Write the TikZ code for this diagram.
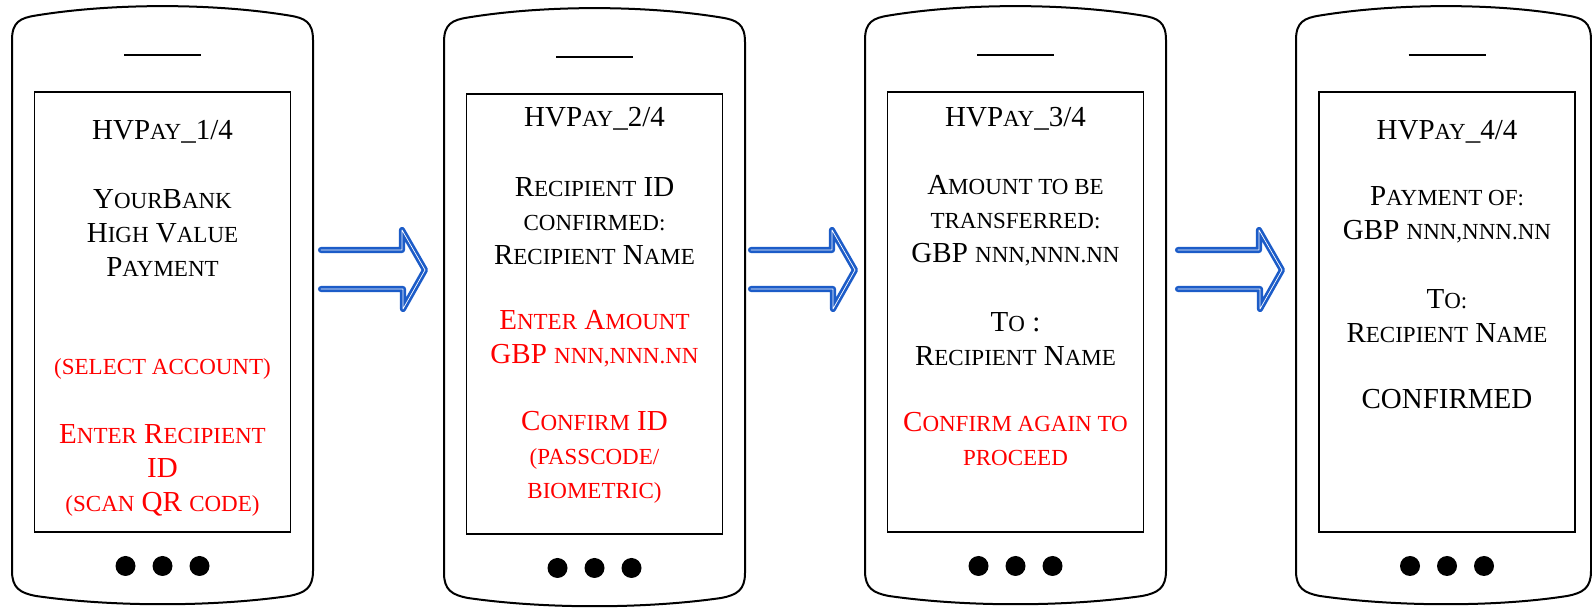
\documentclass[tikz,border=0pt]{standalone}
\usepackage{fontspec}
\setmainfont{Liberation Serif}
\usepackage{tikz}
\usetikzlibrary{positioning}
\definecolor{arrowblue}{RGB}{28, 92, 200}
\definecolor{alertred}{RGB}{255, 0, 0}
\newcommand{\smc}[1]{{\fontsize{11.5pt}{17pt}\selectfont\uppercase{#1}}}
\tikzstyle{body} = [draw=black, line width=1pt]
\tikzstyle{screen} = [rectangle, draw=black, line width=0.75pt, minimum width=128pt, minimum height=220pt, inner sep=0pt]
\tikzstyle{button} = [circle, fill=black, minimum size=10pt, inner sep=0pt]
\tikzstyle{textonly} = [draw=none, fill=none, align=center, text=black, font=\fontsize{14.5pt}{17pt}\selectfont, inner sep=0pt]
\tikzstyle{redtext} = [textonly, text=alertred]
\tikzstyle{flow} = [draw=arrowblue, line width=1.35pt, double=white, double distance=0.35pt, line cap=round, line join=round]

\begin{document}
\begin{tikzpicture}[x=0.5pt, y=-0.5pt]
\useasboundingbox (0,0) rectangle (1592,608);

% phones =============================
\foreach \n/\L/\R/\C/\dy in {1/12/313/162.5/0, 2/444/745/594.5/2, 3/865/1166/1015.5/0, 4/1296/1591/1447/0}{
  \draw[body] (\L,571+\dy) -- (\L,40+\dy)
    .. controls (\L,22+\dy) and (\L+8,18+\dy) .. (\L+24,15.5+\dy)
    .. controls (\C-50,3+\dy) and (\C+50,3+\dy) .. (\R-24,15.5+\dy)
    .. controls (\R-8,18+\dy) and (\R,22+\dy) .. (\R,40+\dy)
    -- (\R,571+\dy)
    .. controls (\R,588+\dy) and (\R-8,593+\dy) .. (\R-24,596+\dy)
    .. controls (\C+50,607+\dy) and (\C-50,607+\dy) .. (\L+24,596+\dy)
    .. controls (\L+8,593+\dy) and (\L,588+\dy) .. cycle;
  \draw[body] (\C-38.5,55+\dy) -- (\C+38.5,55+\dy);
  \node[screen] (s\n) at (\C,312+\dy) {};
  \node[button] (b\n a) at (\C-37,566+\dy) {};
  \node[button] (b\n b) at (\C,566+\dy) {};
  \node[button] (b\n c) at (\C+37,566+\dy) {};
}

% arrows
\foreach \n/\x in {1/321, 2/751, 3/1178}{
  \coordinate (a\n) at (\x+104,270);
  \draw[flow] (\x,250) -- (\x+81,250) -- (\x+81,230) -- (a\n) -- (\x+82,309) -- (\x+82,289) -- (\x,289);
}

% screen 1
\node[textonly] (t1) at (162.5,132) {HVP\smc{ay}\_1/4};
\node[textonly] (m1) at (162.5,233.5) {Y\smc{our}B\smc{ank}\\H\smc{igh} V\smc{alue}\\P\smc{ayment}};
\node[redtext] (r1) at (162.5,368.5) {\smc{(select account)}};
\node[redtext] (q1) at (162.5,470) {E\smc{nter} R\smc{ecipient}\\ID\\\smc{(scan} QR \smc{code)}};

% screen 2
\node[textonly] (t2) at (594.5,119) {HVP\smc{ay}\_2/4};
\node[textonly] (m2) at (594.5,221) {R\smc{ecipient} ID\\\smc{confirmed:}\\R\smc{ecipient} N\smc{ame}};
\node[redtext] (r2) at (594.5,338.5) {E\smc{nter} A\smc{mount}\\GBP \smc{nnn,nnn.nn}};
\node[redtext] (q2) at (594.5,457) {C\smc{onfirm} ID\\\smc{(passcode/}\\\smc{biometric)}};

% screen 3
\node[textonly] (t3) at (1015.5,119) {HVP\smc{ay}\_3/4};
\node[textonly] (m3) at (1015.5,221) {A\smc{mount to be}\\\smc{transferred:}\\GBP \smc{nnn,nnn.nn}};
\node[textonly] (n3) at (1015.5,339) {T\smc{o} :\\R\smc{ecipient} N\smc{ame}};
\node[redtext] (r3) at (1015.5,439) {C\smc{onfirm again to}\\\smc{proceed}};

% screen 4
\node[textonly] (t4) at (1447,132) {HVP\smc{ay}\_4/4};
\node[textonly] (m4) at (1447,215) {P\smc{ayment of:}\\GBP \smc{nnn,nnn.nn}};
\node[textonly] (n4) at (1447,316) {T\smc{o:}\\R\smc{ecipient} N\smc{ame}};
\node[textonly] (c4) at (1447,399) {CONFIRMED};

\end{tikzpicture}
\end{document}
